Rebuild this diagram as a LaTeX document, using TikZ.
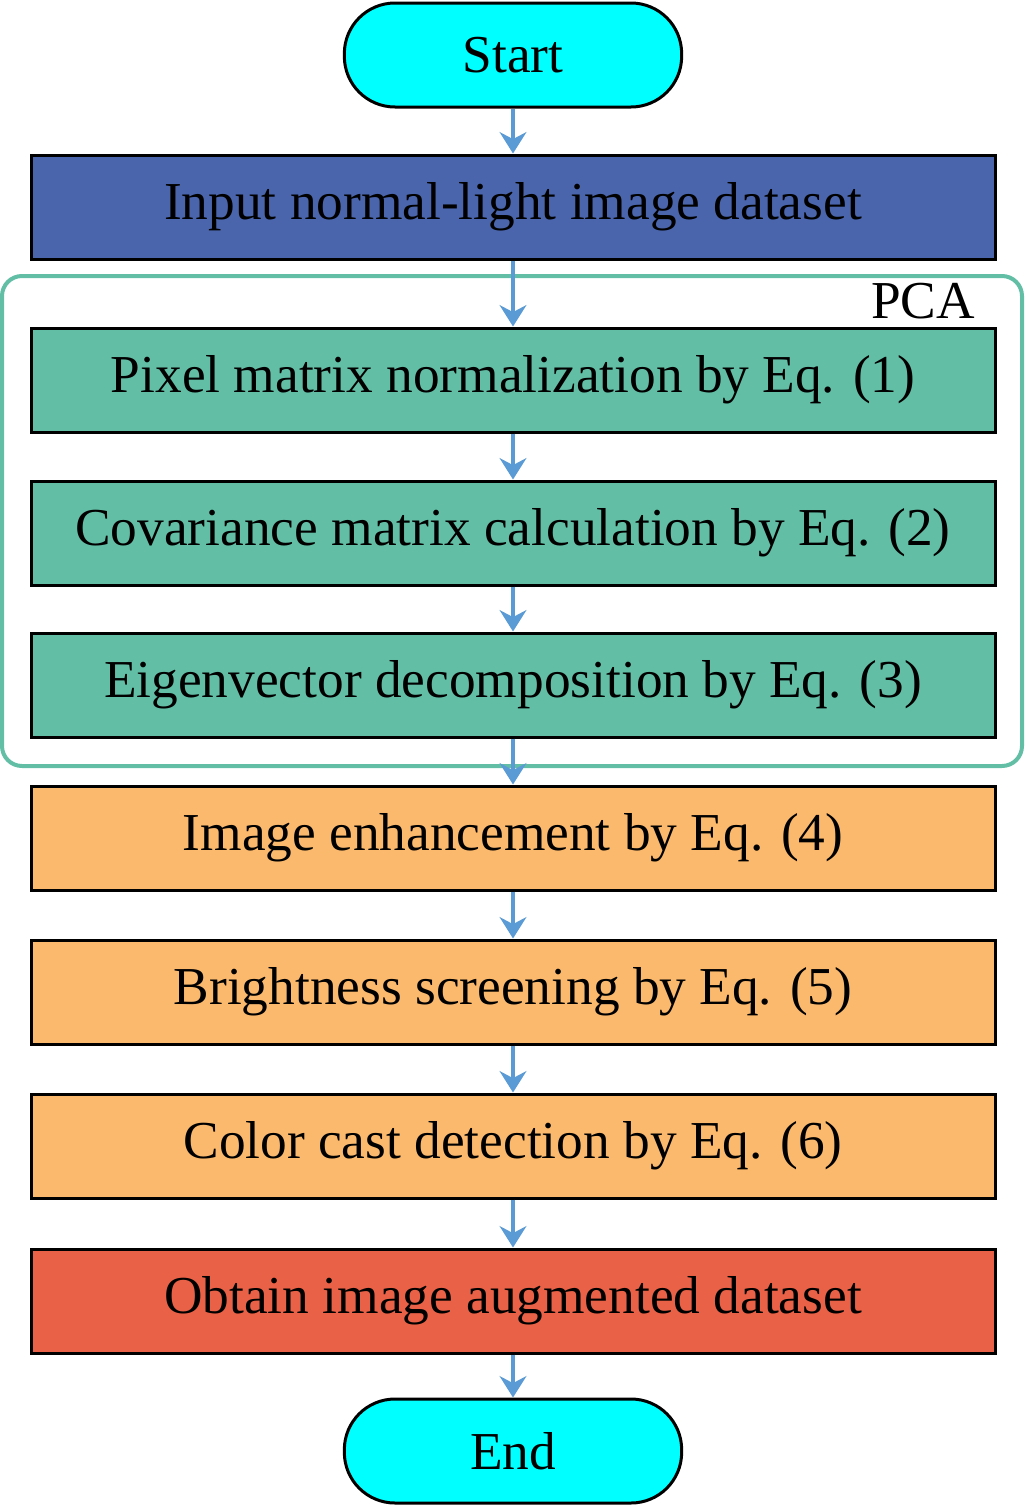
\documentclass[tikz,border=0pt]{standalone}
\usepackage{fontspec}
\setmainfont{Liberation Serif}
\usetikzlibrary{arrows.meta}
\definecolor{startcyan}{RGB}{0,255,255}
\definecolor{inblue}{RGB}{74,101,172}
\definecolor{pcateal}{RGB}{98,190,165}
\definecolor{augorange}{RGB}{251,185,110}
\definecolor{outred}{RGB}{233,97,70}
\definecolor{flowblue}{RGB}{91,155,213}
\tikzset{every picture/.style={line width=0.75pt}}
\tikzset{
  flowbox/.style={draw=black,line width=2.25pt,minimum width=723pt,minimum height=78pt,inner sep=0pt,font=\fontsize{40}{48}\selectfont},
  term/.style={draw=black,line width=2.25pt,fill=startcyan,rounded corners=38pt,minimum width=253pt,minimum height=78pt,inner sep=0pt,font=\fontsize{40}{48}\selectfont},
  flow/.style={draw=flowblue,line width=3pt,-{Stealth[length=16pt,width=20pt]}}
}
\begin{document}
\begin{tikzpicture}[x=0.75pt,y=0.75pt,yscale=-1,xscale=1]
\useasboundingbox (0,0) rectangle (1025,1506);

%PCA frame
\draw [draw=pcateal,line width=3pt,rounded corners=15pt] (2,276) rectangle (1022,766);
\node [anchor=base east,font=\fontsize{40}{48}\selectfont] (pcalbl) at (980,318) {PCA};

% Nodes
\node [term] (start) at (513,55) {Start};
\node [flowbox,fill=inblue] (input) at (513,207) {Input normal-light image dataset};
\node [flowbox,fill=pcateal] (norm) at (513,380) {Pixel matrix normalization by Eq. (1)};
\node [flowbox,fill=pcateal] (cov) at (513,533) {Covariance matrix calculation by Eq. (2)};
\node [flowbox,fill=pcateal] (eig) at (513,685) {Eigenvector decomposition by Eq. (3)};
\node [flowbox,fill=augorange] (enh) at (513,838) {Image enhancement by Eq. (4)};
\node [flowbox,fill=augorange] (bright) at (513,992) {Brightness screening by Eq. (5)};
\node [flowbox,fill=augorange] (cast) at (513,1146) {Color cast detection by Eq. (6)};
\node [flowbox,fill=outred] (obtain) at (513,1301) {Obtain image augmented dataset};
\node [term] (end) at (513,1451) {End};

% Connectors
\foreach \a/\b in {start/input,input/norm,norm/cov,cov/eig,eig/enh,enh/bright,bright/cast,cast/obtain,obtain/end}
  \draw [flow] (\a) -- (\b);

\end{tikzpicture}
\end{document}
